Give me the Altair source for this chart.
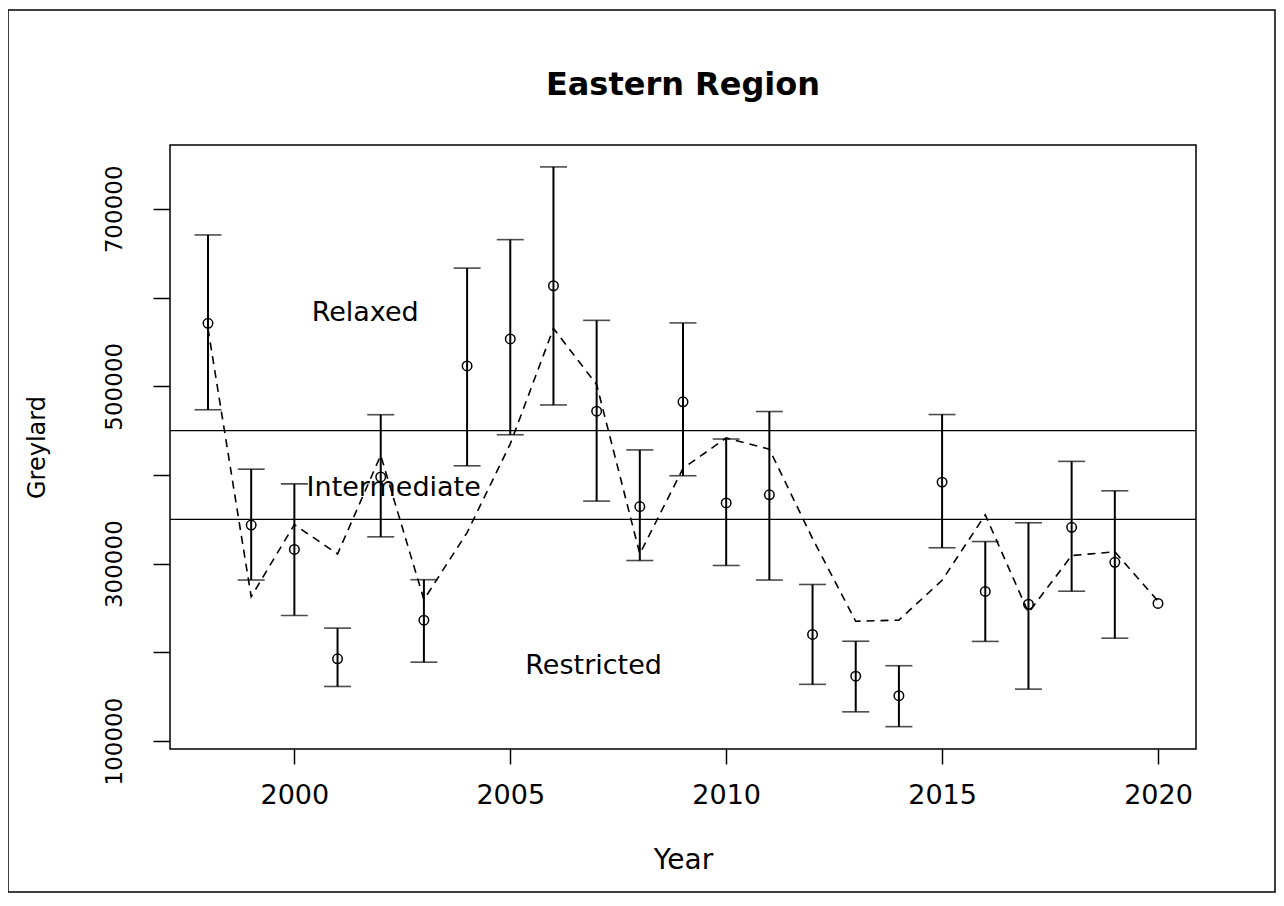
import altair as alt
import pandas as pd

# ---- data ----
years = list(range(1998, 2021))
mean_vals = [571000, 343500, 316000, 192700, 397800, 236200, 522900, 553400,
             613300, 471900, 364300, 482400, 368500, 377600, 220200, 173100,
             151100, 391900, 268600, 254200, 341000, 301500, 255100]
upper_vals = [670600, 406500, 389900, 227300, 467900, 281900, 633200, 665300,
              747300, 574300, 428200, 571400, 440500, 471500, 276500, 212500,
              184900, 468100, 324900, 346100, 415300, 382100, None]
lower_vals = [473500, 281500, 241600, 161500, 330200, 188900, 410300, 445300,
              478900, 370500, 303500, 399100, 297900, 281500, 163900, 132900,
              116200, 317900, 212300, 158500, 268900, 215900, None]
smooth_vals = [565000, 262700, 344000, 310900, 422100, 259400, 335000, 435000,
               565200, 501900, 311000, 407400, 441700, 429100, 328300, 235000,
               236300, 281200, 355000, 244700, 309100, 313400, 257700]
ref_levels = [450000, 350000]
zone_labels = ["Relaxed", "Intermediate", "Restricted"]
zone_x = [2001.64, 2002.3, 2006.93]
zone_y = [583000, 385000, 185000]
x_ticks = [2000, 2005, 2010, 2015, 2020]
y_ticks = [100000, 200000, 300000, 400000, 500000, 600000, 700000]
y_labelled = [100000, 300000, 500000, 700000]
title_text = "Eastern Region"

df = pd.DataFrame({"Year": years, "mean": mean_vals, "upper": upper_vals,
                   "lower": lower_vals, "smooth": smooth_vals})
ref_df = pd.DataFrame({"level": ref_levels})
txt_df = pd.DataFrame({"label": zone_labels, "x": zone_x, "y": zone_y})

FONT = "DejaVu Sans"
xs = alt.Scale(domain=[1997.12, 2020.88], nice=False, zero=False)
ys = alt.Scale(domain=[91000, 772000], nice=False, zero=False)

label_test = " || ".join(f"datum.value == {v}" for v in y_labelled)

x_axis = alt.Axis(title="Year", values=x_ticks, format="d", grid=False, domain=False,
                  tickSize=15, tickWidth=1.5, tickColor="black",
                  labelFont=FONT, labelFontSize=27, labelColor="black", labelPadding=18,
                  titleFont=FONT, titleFontSize=28, titleFontWeight="normal",
                  titleColor="black", titlePadding=38)
y_axis = alt.Axis(title="Greylard", values=y_ticks, grid=False, domain=False,
                  labelExpr=f"({label_test}) ? format(datum.value, 'd') : ''",
                  tickSize=17, tickWidth=1.5, tickColor="black",
                  labelFont=FONT, labelFontSize=23, labelColor="black",
                  labelAngle=270, labelAlign="center", labelBaseline="alphabetic",
                  labelPadding=32,
                  titleFont=FONT, titleFontSize=24, titleFontWeight="normal",
                  titleColor="black", titleAngle=270, titlePadding=54)

X = alt.X("Year:Q", scale=xs, axis=x_axis)

bars = alt.Chart(df).mark_rule(color="black", strokeWidth=2).encode(
    x=X, y=alt.Y("lower:Q", scale=ys, axis=y_axis), y2="upper:Q")
cap_hi = alt.Chart(df).mark_tick(orient="horizontal", size=27, thickness=1.6, color="black").encode(
    x=X, y=alt.Y("upper:Q", scale=ys, axis=y_axis))
cap_lo = alt.Chart(df).mark_tick(orient="horizontal", size=27, thickness=1.6, color="black").encode(
    x=X, y=alt.Y("lower:Q", scale=ys, axis=y_axis))
pts = alt.Chart(df).mark_point(shape="circle", filled=False, size=90, stroke="black",
                               strokeWidth=1.5, opacity=1).encode(
    x=X, y=alt.Y("mean:Q", scale=ys, axis=y_axis))
smooth = alt.Chart(df).mark_line(color="black", strokeWidth=1.6, strokeDash=[8, 6],
                                 interpolate="linear").encode(
    x=X, y=alt.Y("smooth:Q", scale=ys, axis=y_axis))
refs = alt.Chart(ref_df).mark_rule(color="black", strokeWidth=1.3).encode(
    y=alt.Y("level:Q", scale=ys, axis=y_axis))
labels = alt.Chart(txt_df).mark_text(font=FONT, fontSize=27, align="center",
                                     baseline="middle", color="black").encode(
    x=alt.X("x:Q", scale=xs, axis=x_axis), y=alt.Y("y:Q", scale=ys, axis=y_axis),
    text="label:N")
one = pd.DataFrame({"t": [title_text]})
frame = alt.Chart(one).mark_rect(
    filled=False, stroke="black", strokeWidth=1.5, clip=False).encode(
    x=alt.value(-162), x2=alt.value(1105), y=alt.value(-135), y2=alt.value(747))
title = alt.Chart(one).mark_text(font=FONT, fontSize=32, fontWeight="bold", align="center",
                                 baseline="alphabetic", color="black", clip=False).encode(
    x=alt.value(513), y=alt.value(-50), text="t:N")

chart = alt.layer(frame, title, refs, smooth, bars, cap_hi, cap_lo, pts, labels).properties(
    width=1026, height=604,
    autosize=alt.AutoSizeParams(type="none"),
    padding={"left": 162, "top": 137, "right": 80, "bottom": 145},
).configure(background="white").configure_view(stroke="black", strokeWidth=1.5)

chart.save("out.html", embed_options={"renderer": "svg", "actions": False})
